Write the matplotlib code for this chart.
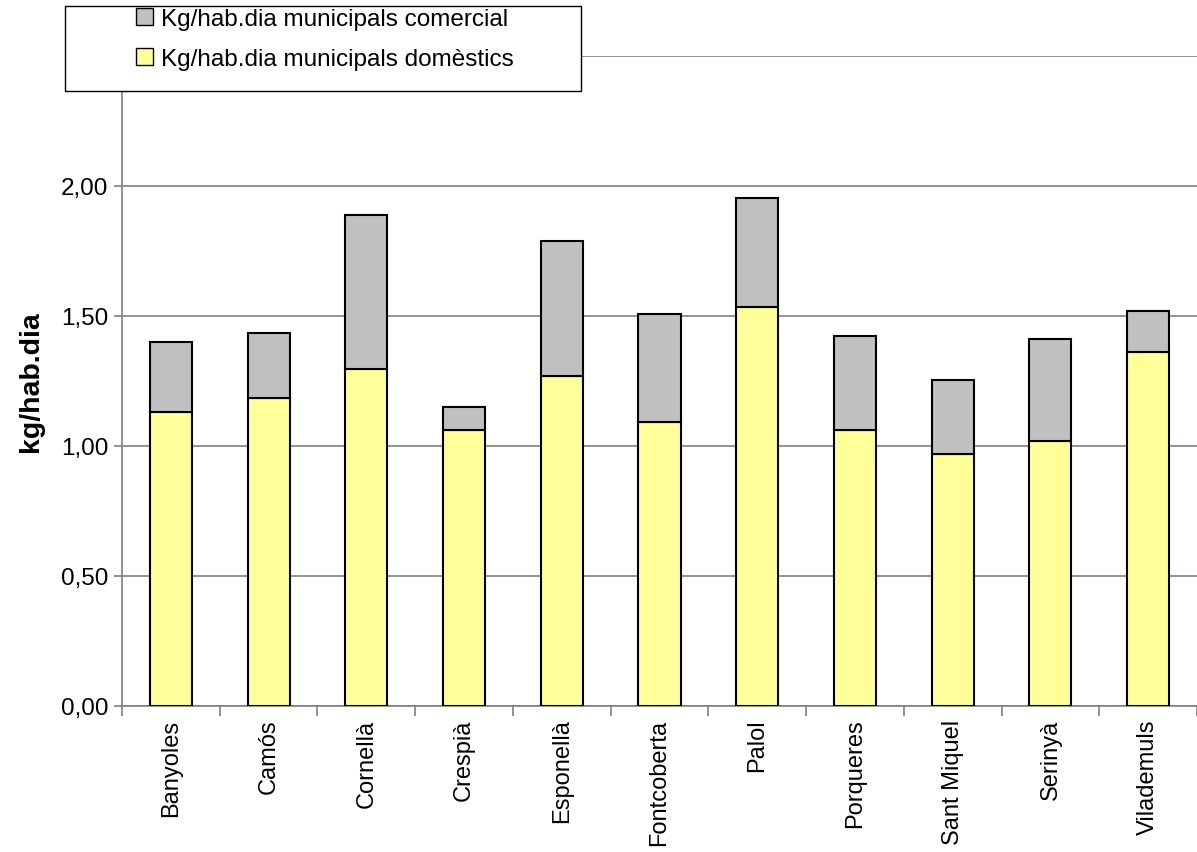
import matplotlib
matplotlib.use("Agg")
import matplotlib.pyplot as plt
from matplotlib.patches import Patch, Rectangle
import numpy as np

categories = ["Banyoles", "Camós", "Cornellà", "Crespià", "Esponellà", "Fontcoberta",
              "Palol", "Porqueres", "Sant Miquel", "Serinyà", "Vilademuls"]
domestic = [1.13, 1.185, 1.296, 1.062, 1.269, 1.092, 1.535, 1.062, 0.969, 1.019, 1.362]
total = [1.40, 1.435, 1.888, 1.15, 1.788, 1.508, 1.954, 1.423, 1.254, 1.412, 1.519]
commercial = [t - d for t, d in zip(total, domestic)]
yticks = [0.0, 0.5, 1.0, 1.5, 2.0, 2.5]
ytick_labels = ["0,00", "0,50", "1,00", "1,50", "2,00", ""]

plt.rcParams['font.family'] = ['Liberation Sans', 'DejaVu Sans']

W, H = 1197, 853
fig = plt.figure(figsize=(W / 100, H / 100), dpi=100)
ax = fig.add_axes([122/W, 1-707/H, 1-122/W, (707-57)/H])

x = np.arange(len(categories))
w = 0.43
ax.bar(x, domestic, w, color="#FFFF99", edgecolor="black", linewidth=1.5, zorder=3,
       label="Kg/hab.dia municipals domèstics")
ax.bar(x, commercial, w, bottom=domestic, color="#C0C0C0", edgecolor="black", linewidth=1.5,
       zorder=3, label="Kg/hab.dia municipals comercial")

ax.set_xlim(-0.5, len(categories) - 0.5)
ax.set_ylim(0, 2.5)
ax.set_yticks(yticks)
ax.set_yticklabels(ytick_labels, fontsize=17.5)
ax.set_xticks(x)
ax.set_xticklabels(categories, rotation=90, fontsize=17)
ax.set_xticks(np.arange(len(categories) + 1) - 0.5, minor=True)
ax.tick_params(axis='x', which='major', length=0, pad=9)
ax.tick_params(axis='x', which='minor', length=7, color="#808080", width=1.2)
ax.tick_params(axis='y', length=6, color="#808080", width=1.2, pad=4)
ax.yaxis.grid(True, color="#808080", linewidth=1.2, zorder=0)
for s in ["top", "right"]:
    ax.spines[s].set_visible(False)
ax.spines["left"].set_color("#808080")
ax.spines["bottom"].set_color("#808080")
ax.spines["left"].set_linewidth(1.2)
ax.spines["bottom"].set_linewidth(1.2)

ax.set_ylabel("kg/hab.dia", fontsize=20.5, fontweight="bold", labelpad=12)

# legend frame
frame = Rectangle((65/W, 1-92/H), 516/W, 85/H, transform=fig.transFigure,
                  facecolor="white", edgecolor="black", linewidth=1.0, zorder=9)
fig.add_artist(frame)

handles = [Patch(facecolor="#C0C0C0", edgecolor="black", label="Kg/hab.dia municipals comercial"),
           Patch(facecolor="#FFFF99", edgecolor="black", label="Kg/hab.dia municipals domèstics")]
leg = fig.legend(handles=handles, loc="center",
                 bbox_to_anchor=(325/W, 1-40/H),
                 fontsize=17.5, frameon=False,
                 handlelength=0.7, handleheight=0.7, handletextpad=0.3, borderaxespad=0,
                 labelspacing=0.72, borderpad=0.0)
leg.set_zorder(10)

fig.savefig("out.png", dpi=100, facecolor="white")
